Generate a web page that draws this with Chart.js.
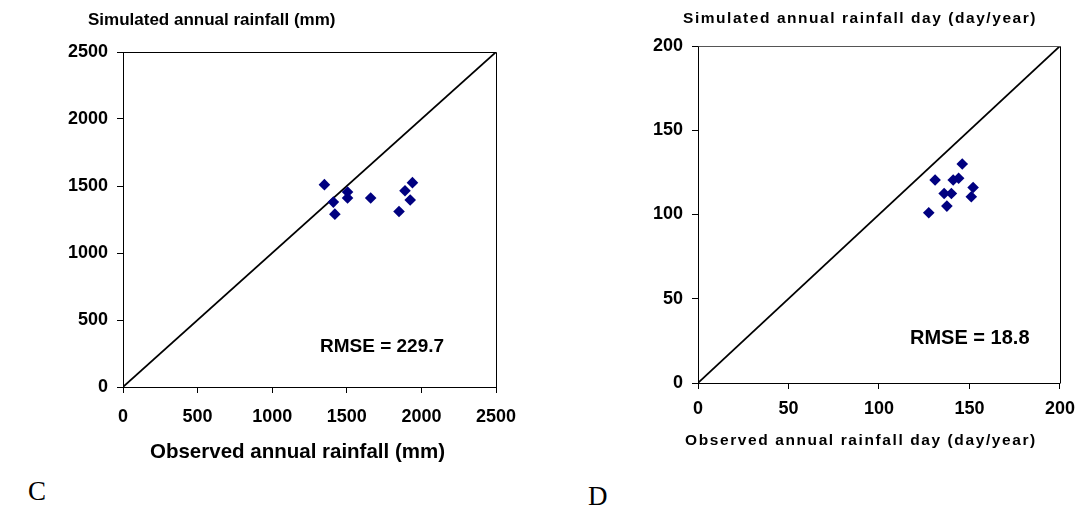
<!DOCTYPE html>
<html>
<head>
<meta charset="utf-8">
<script src="https://cdn.jsdelivr.net/npm/chart.js@4/dist/chart.umd.min.js"></script>
<style>
  html, body { margin: 0; padding: 0; background: #fff; }
  body { width: 1084px; height: 515px; position: relative; overflow: hidden; font-family: "Liberation Sans", Arial, sans-serif; }
  .box { position: absolute; top: 0; }
  .t { position: absolute; font-weight: bold; color: #000; white-space: nowrap; line-height: 1; }
  .panel { position: absolute; font-family: "Liberation Serif", "Times New Roman", serif; font-size: 27px; color: #000; line-height: 1; }
</style>
</head>
<body>
<div class="box" style="left:0;"><canvas id="cC" width="560" height="440"></canvas></div>
<div class="box" style="left:560px;"><canvas id="cD" width="524" height="440"></canvas></div>

<div class="t" style="left:88px; top:11px; font-size:17px;">Simulated annual rainfall (mm)</div>
<div class="t" style="left:150px; top:441px; font-size:20.5px;">Observed annual rainfall (mm)</div>
<div class="t" style="left:320px; top:336px; font-size:19px;">RMSE = 229.7</div>
<div class="panel" style="left:28px; top:478px;">C</div>

<div class="t" style="left:683px; top:10px; font-size:15.5px; letter-spacing:1.55px;">Simulated annual rainfall day (day/year)</div>
<div class="t" style="left:685px; top:432px; font-size:15.5px; letter-spacing:1.6px;">Observed annual rainfall day (day/year)</div>
<div class="t" style="left:910px; top:327px; font-size:20px;">RMSE = 18.8</div>
<div class="panel" style="left:588px; top:483px;">D</div>

<script>
// Panel C: annual rainfall (mm)
const obsRain = [1350, 1410, 1420, 1505, 1505, 1660, 1850, 1890, 1940, 1925];
const simRain = [1510, 1380, 1290, 1455, 1410, 1410, 1310, 1465, 1525, 1395];
const rainTicks = [0, 500, 1000, 1500, 2000, 2500];

// Panel D: annual rainfall days (day/year)
const obsDays = [146, 131, 141, 144, 136, 140, 152, 151, 137.5, 127.5];
const simDays = [130, 120.5, 120.5, 121.5, 112.5, 112.5, 116, 110.5, 105, 101];
const dayTicks = [0, 50, 100, 150, 200];

const NAVY = '#000080';

const boxPlugin = {
  id: 'frameBox',
  afterDatasetsDraw(chart, args, opts) {
    const a = chart.chartArea, ctx = chart.ctx;
    ctx.save();
    ctx.lineWidth = 1;
    ctx.strokeStyle = opts.topColor || '#000';
    ctx.beginPath();
    ctx.moveTo(Math.round(a.left) + 0.5, Math.round(a.top) + 0.5);
    ctx.lineTo(Math.round(a.right) + 0.5, Math.round(a.top) + 0.5);
    ctx.stroke();
    ctx.strokeStyle = opts.rightColor || '#000';
    ctx.beginPath();
    ctx.moveTo(Math.round(a.right) + 0.5, Math.round(a.top) + 0.5);
    ctx.lineTo(Math.round(a.right) + 0.5, Math.round(a.bottom) + 0.5);
    ctx.stroke();
    ctx.restore();
  }
};

function makeChart(id, obs, sim, ticks, cfg) {
  const max = ticks[ticks.length - 1];
  const pts = obs.map((x, i) => ({ x: x, y: sim[i] }));
  const font = { family: '"Liberation Sans", Arial, sans-serif', size: cfg.tickSize, weight: 'bold' };
  const fmt = v => String(v);
  return new Chart(document.getElementById(id), {
    type: 'scatter',
    data: {
      datasets: [
        {
          type: 'scatter', data: pts, order: 0,
          pointStyle: 'rectRot', pointRadius: 5.8, pointHoverRadius: 5.8,
          backgroundColor: NAVY, borderColor: NAVY, borderWidth: 0
        },
        {
          type: 'line', data: [{ x: ticks[0], y: ticks[0] }, { x: max, y: max }], order: 1,
          borderColor: '#000', borderWidth: 1.7, pointRadius: 0, fill: false, tension: 0
        }
      ]
    },
    options: {
      responsive: false, animation: false,
      layout: { padding: cfg.padding },
      plugins: { legend: { display: false }, tooltip: { enabled: false }, frameBox: { topColor: cfg.topColor } },
      scales: {
        x: {
          type: 'linear', min: ticks[0], max: max,
          afterBuildTicks: s => { s.ticks = ticks.map(v => ({ value: v })); },
          afterFit: s => { s.height = cfg.xHeight; },
          grid: { drawOnChartArea: false, drawTicks: true, tickLength: 6, color: '#000', tickColor: '#000' },
          border: { display: true, color: '#000', width: 1 },
          ticks: { color: '#000', font: font, padding: cfg.xPad, maxRotation: 0, autoSkip: false, callback: fmt }
        },
        y: {
          type: 'linear', min: ticks[0], max: max,
          afterBuildTicks: s => { s.ticks = ticks.map(v => ({ value: v })); },
          afterFit: s => { s.width = cfg.yWidth; },
          grid: { drawOnChartArea: false, drawTicks: true, tickLength: 6, color: '#000', tickColor: '#000' },
          border: { display: true, color: '#000', width: 1 },
          ticks: { color: '#000', font: font, padding: cfg.yPad, autoSkip: false, callback: fmt }
        }
      }
    },
    plugins: [boxPlugin]
  });
}

makeChart('cC', obsRain, simRain, rainTicks, {
  tickSize: 18, padding: { top: 52, right: 64, left: 40, bottom: 0 },
  yWidth: 83, xHeight: 53, xPad: 13, yPad: 9, topColor: '#000'
});
makeChart('cD', obsDays, simDays, dayTicks, {
  tickSize: 18, padding: { top: 46, right: 21, left: 50, bottom: 0 },
  yWidth: 88, xHeight: 57, xPad: 9, yPad: 9, topColor: '#555'
});
</script>
</body>
</html>
